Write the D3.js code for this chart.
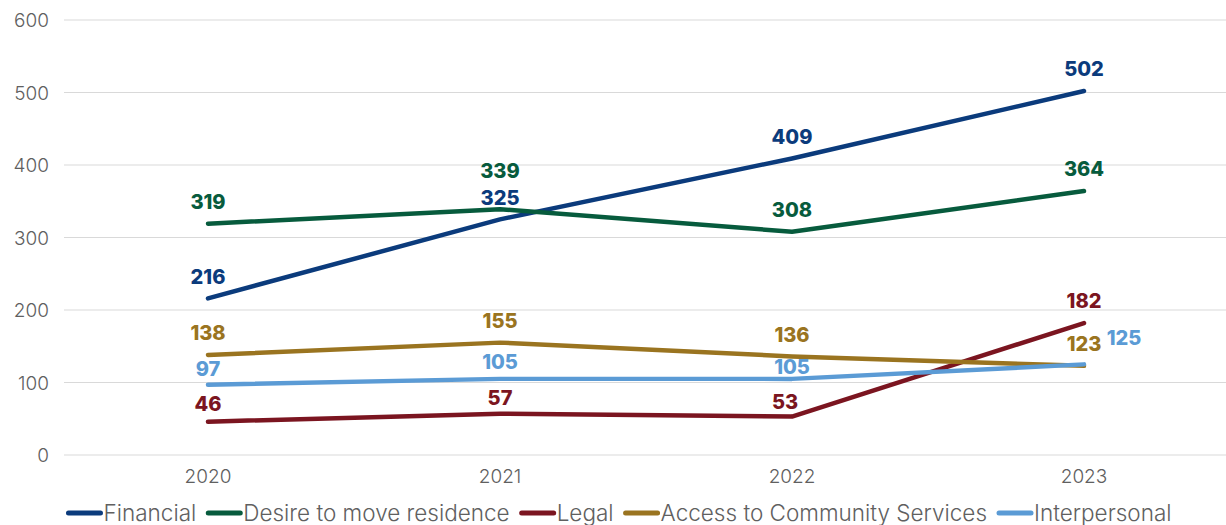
<!DOCTYPE html>
<html>
<head>
<meta charset="utf-8">
<script src="https://cdn.jsdelivr.net/npm/d3@7/dist/d3.min.js"></script>
<style>
  html, body { margin: 0; padding: 0; background: #fff; }
  svg { display: block; }
  .tick text { font-family: Inter, "Open Sans", sans-serif; font-weight: 300; fill: #606060; }
  .vlabel { font-family: Inter, "Open Sans", sans-serif; font-weight: 800; }
  .legend text { font-family: Inter, "Open Sans", sans-serif; font-weight: 300; fill: #606060; }
</style>
</head>
<body>
<svg id="chart" width="1226" height="525"></svg>
<script>
// Categories and series values
const years = ["2020", "2021", "2022", "2023"];
const seriesNames = ["Financial", "Desire to move residence", "Legal", "Access to Community Services", "Interpersonal"];
const financial = [216, 325, 409, 502];
const desireToMove = [319, 339, 308, 364];
const legal = [46, 57, 53, 182];
const accessServices = [138, 155, 136, 123];
const interpersonal = [97, 105, 105, 125];
const yTicks = [0, 100, 200, 300, 400, 500, 600];

const colors = ["#0B3B7C", "#075B3D", "#7B1520", "#9A7420", "#5B9BD5"];
const seriesValues = [financial, desireToMove, legal, accessServices, interpersonal];

// Per-label placement tweaks [dx, dy from point] for crowded spots
const labelShift = {
  "1-1": [0, -38],
  "4-0": [0, -16], "4-1": [0, -17], "4-2": [0, -12], "4-3": [40, -27],
  "2-0": [0, -18], "2-1": [0, -16], "2-2": [-7, -15]
};

const svg = d3.select("#chart");
const x = d3.scaleBand().domain(years).range([62, 1230]);
const y = d3.scaleLinear().domain([0, 600]).range([455, 20]);

// Gridlines
svg.append("g")
  .selectAll("line")
  .data(yTicks)
  .join("line")
  .attr("x1", 64).attr("x2", 1226)
  .attr("y1", d => y(d)).attr("y2", d => y(d))
  .attr("stroke", "#d9d9d9").attr("stroke-width", 1);

// Y axis labels
const yAxis = svg.append("g")
  .attr("transform", "translate(49,0)")
  .call(d3.axisLeft(y).tickValues(yTicks).tickSize(0).tickPadding(0));
yAxis.select(".domain").remove();
yAxis.selectAll("text").style("font-size", "19px").attr("dy", "0.35em");

// X axis labels
const xAxis = svg.append("g")
  .attr("transform", "translate(0,469)")
  .call(d3.axisBottom(x).tickSize(0).tickPadding(0));
xAxis.select(".domain").remove();
xAxis.selectAll("text").style("font-size", "19px").attr("dy", "0.71em");

const cx = d => x(d) + x.bandwidth() / 2;

// Lines
const line = d3.line().x((d, i) => cx(years[i])).y(d => y(d));
seriesValues.forEach((vals, s) => {
  svg.append("path")
    .datum(vals)
    .attr("d", line)
    .attr("fill", "none")
    .attr("stroke", colors[s])
    .attr("stroke-width", 4.5)
    .attr("stroke-linecap", "round")
    .attr("stroke-linejoin", "round");
});

// Value labels
seriesValues.forEach((vals, s) => {
  vals.forEach((v, i) => {
    const shift = labelShift[s + "-" + i] || [0, -22];
    svg.append("text")
      .attr("class", "vlabel")
      .attr("x", cx(years[i]) + shift[0])
      .attr("y", y(v) + shift[1])
      .attr("dy", "0.36em")
      .attr("text-anchor", "middle")
      .style("font-size", "20px")
      .attr("fill", colors[s])
      .text(v);
  });
});

// Legend
const legend = svg.append("g").attr("class", "legend");
const items = seriesNames.map((name, s) => {
  const g = legend.append("g");
  g.append("line")
    .attr("x1", 0).attr("x2", 32).attr("y1", 0).attr("y2", 0)
    .attr("stroke", colors[s]).attr("stroke-width", 5).attr("stroke-linecap", "round");
  const t = g.append("text")
    .attr("x", 35).attr("y", 0).attr("dy", "0.35em")
    .style("font-size", "22.5px")
    .text(name);
  return { g, w: 35 + t.node().getComputedTextLength() };
});
const gap = 12;
const total = d3.sum(items, d => d.w) + gap * (items.length - 1);
let lx = 620 - total / 2;
items.forEach(it => {
  it.g.attr("transform", `translate(${lx},513)`);
  lx += it.w + gap;
});
</script>
</body>
</html>
